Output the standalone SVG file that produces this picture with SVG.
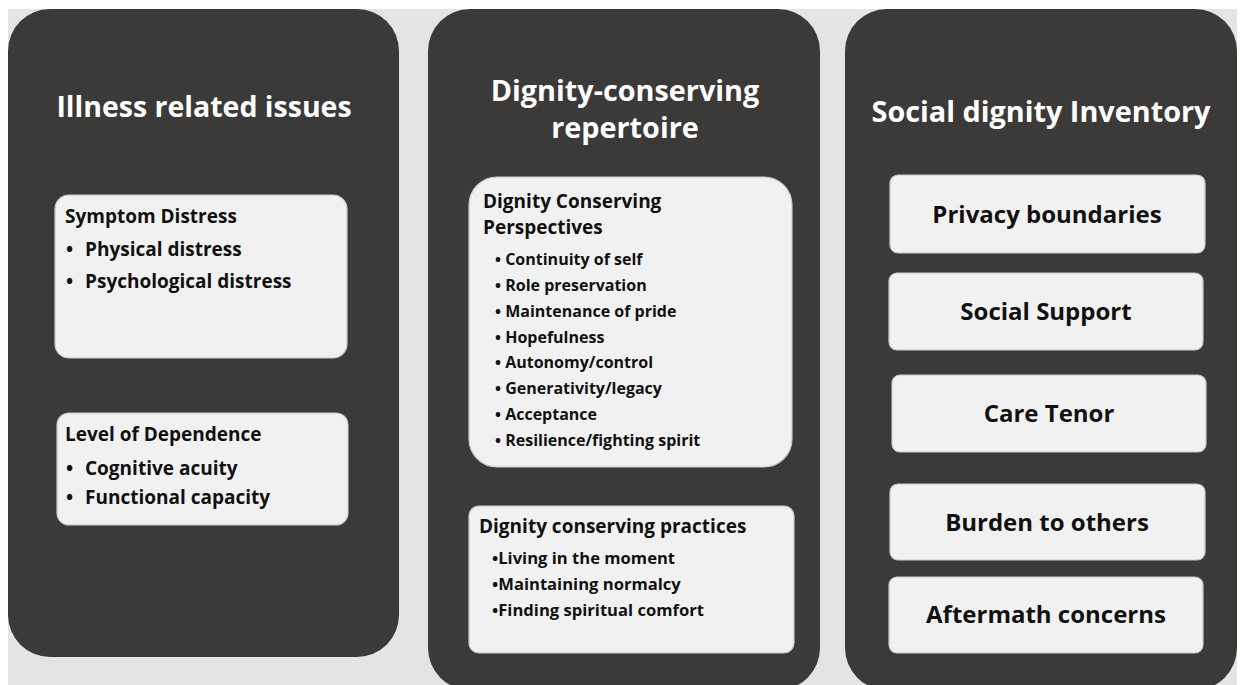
<svg xmlns="http://www.w3.org/2000/svg" width="1240" height="685" viewBox="0 0 1240 685">
  <style>
    .panel { fill: #3b3a38; }
    .card { fill: #f1f1f1; stroke: #c9c9c9; stroke-width: 1.2; }
    .title { font-family: "Open Sans", "Liberation Sans", sans-serif; font-weight: 700; font-size: 28.8px; fill: #ffffff; text-anchor: middle; }
    .head { font-family: "Open Sans", "Liberation Sans", sans-serif; font-weight: 700; font-size: 19px; fill: #111111; }
    .item { font-family: "Open Sans", "Liberation Sans", sans-serif; font-weight: 700; font-size: 19px; fill: #111111; }
    .small { font-family: "Open Sans", "Liberation Sans", sans-serif; font-weight: 700; font-size: 16px; fill: #111111; }
    .practice { font-family: "Open Sans", "Liberation Sans", sans-serif; font-weight: 700; font-size: 16.6px; fill: #111111; }
    .label { font-family: "Open Sans", "Liberation Sans", sans-serif; font-weight: 700; font-size: 24px; fill: #111111; text-anchor: middle; }
  </style>

  <rect x="0" y="0" width="1240" height="685" fill="#ffffff"/>
  <rect x="8" y="9" width="1229" height="676" fill="#e4e4e4"/>

  <!-- Column 1: illness related issues -->
  <g id="illness">
    <rect class="panel" x="8" y="9" width="391" height="648" rx="42"/>
    <text class="title" x="204" y="117" style="font-size:28.5px">Illness related issues</text>
  </g>
  <g id="symptom-distress">
    <rect class="card" x="55" y="195" width="292" height="163" rx="14"/>
    <text class="head" x="65" y="223">Symptom Distress</text>
    <text class="item" x="66" y="256">•</text>
    <text class="item" x="85" y="256">Physical distress</text>
    <text class="item" x="66" y="288">•</text>
    <text class="item" x="85" y="288">Psychological distress</text>
  </g>
  <g id="level-of-dependence">
    <rect class="card" x="57" y="413" width="291" height="112" rx="12"/>
    <text class="head" x="65" y="441">Level of Dependence</text>
    <text class="item" x="66" y="475">•</text>
    <text class="item" x="85" y="475">Cognitive acuity</text>
    <text class="item" x="66" y="504">•</text>
    <text class="item" x="85" y="504">Functional capacity</text>
  </g>

  <!-- Column 2: dignity-conserving repertoire -->
  <g id="repertoire">
    <rect class="panel" x="428" y="9" width="392" height="681" rx="42"/>
    <text class="title" x="625" y="101">Dignity-conserving</text>
    <text class="title" x="625" y="138">repertoire</text>
  </g>
  <g id="perspectives">
    <rect class="card" x="469" y="177" width="323" height="290" rx="28"/>
    <text class="head" x="483" y="208">Dignity Conserving</text>
    <text class="head" x="483" y="234">Perspectives</text>
    <text class="small" x="495" y="265">• Continuity of self</text>
    <text class="small" x="495" y="291">• Role preservation</text>
    <text class="small" x="495" y="317">• Maintenance of pride</text>
    <text class="small" x="495" y="343">• Hopefulness</text>
    <text class="small" x="495" y="368">• Autonomy/control</text>
    <text class="small" x="495" y="394">• Generativity/legacy</text>
    <text class="small" x="495" y="420">• Acceptance</text>
    <text class="small" x="495" y="446">• Resilience/fighting spirit</text>
  </g>
  <g id="practices">
    <rect class="card" x="469" y="506" width="325" height="147" rx="10"/>
    <text class="head" x="479" y="533">Dignity conserving practices</text>
    <text class="practice" x="492" y="564">•Living in the moment</text>
    <text class="practice" x="492" y="590">•Maintaining normalcy</text>
    <text class="practice" x="492" y="616">•Finding spiritual comfort</text>
  </g>

  <!-- Column 3: social dignity inventory -->
  <g id="social-inventory">
    <rect class="panel" x="845" y="9" width="392" height="681" rx="42"/>
    <text class="title" x="1041" y="122">Social dignity Inventory</text>
  </g>
  <g id="privacy-boundaries">
    <rect class="card" x="890" y="175" width="315" height="78" rx="8"/>
    <text class="label" x="1047" y="223">Privacy boundaries</text>
  </g>
  <g id="social-support">
    <rect class="card" x="889" y="273" width="314" height="77" rx="8"/>
    <text class="label" x="1046" y="320">Social Support</text>
  </g>
  <g id="care-tenor">
    <rect class="card" x="892" y="375" width="314" height="77" rx="8"/>
    <text class="label" x="1049" y="422">Care Tenor</text>
  </g>
  <g id="burden-to-others">
    <rect class="card" x="890" y="484" width="315" height="76" rx="8"/>
    <text class="label" x="1047" y="531">Burden to others</text>
  </g>
  <g id="aftermath-concerns">
    <rect class="card" x="889" y="577" width="314" height="76" rx="8"/>
    <text class="label" x="1046" y="623">Aftermath concerns</text>
  </g>

  <!-- no connectors in this figure -->
  <g id="connectors"/>
</svg>
